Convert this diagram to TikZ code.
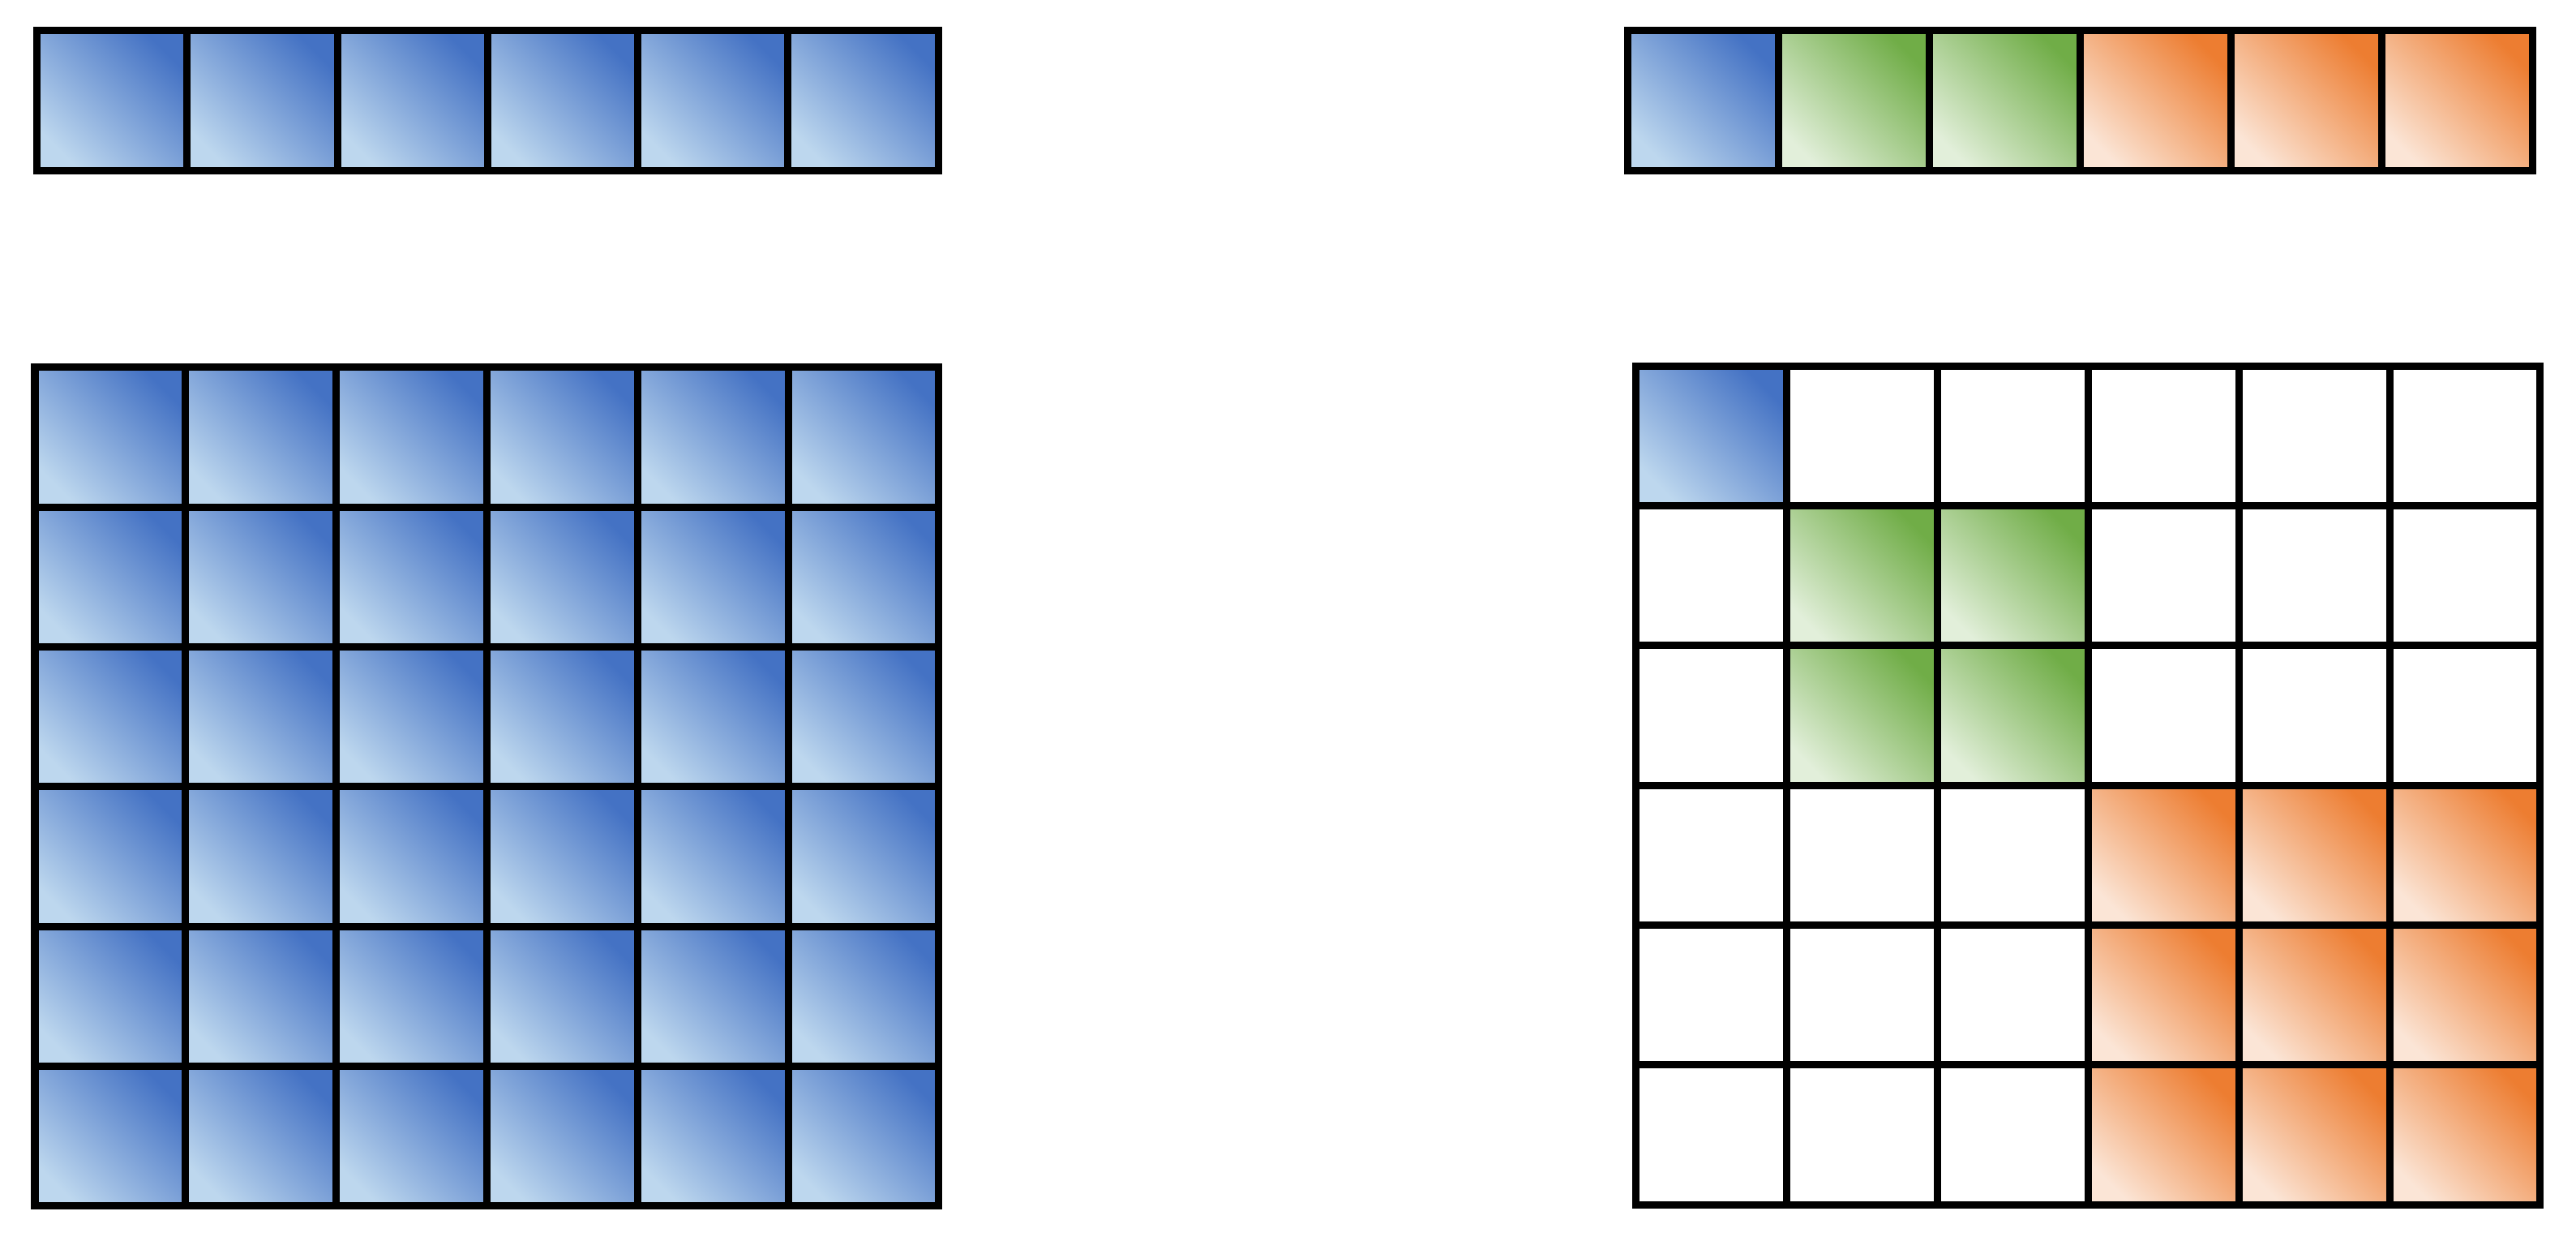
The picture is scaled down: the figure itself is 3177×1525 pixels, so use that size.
\documentclass[tikz,border=0pt]{standalone}
\definecolor{bdark}{HTML}{4472C4}
\definecolor{blight}{HTML}{BDD7EE}
\definecolor{gdark}{HTML}{70AD47}
\definecolor{glight}{HTML}{E2EFDA}
\definecolor{odark}{HTML}{ED7D31}
\definecolor{olight}{HTML}{FBE5D6}
\begin{document}
\begin{tikzpicture}[x=0.01cm,y=-0.01cm,
  cell/.style={draw=black, line width=0.09cm, line join=miter, inner sep=0pt, outer sep=0pt, anchor=north west, minimum width=1.858cm, minimum height=1.723cm},
  topcell/.style={cell, minimum height=1.73cm},
  bluecell/.style={top color=bdark, bottom color=blight, shading angle=-45},
  greencell/.style={top color=gdark, bottom color=glight, shading angle=-45},
  orangecell/.style={top color=odark, bottom color=olight, shading angle=-45},
  whitecell/.style={fill=white}]
\useasboundingbox (0,0) rectangle (3177,1525);
% left top row
\foreach \c in {0,...,5}{
  \node[topcell, bluecell, minimum width=1.8525cm] (LT-\c) at ({45.5+185.25*\c},37.5) {};
}
% right top row
\node[topcell, bluecell, minimum width=1.86cm] (RT-0) at (2007,37.5) {};
\foreach \c in {1,2}{
  \node[topcell, greencell, minimum width=1.86cm] (RT-\c) at ({2007+186*\c},37.5) {};
}
\foreach \c in {3,4,5}{
  \node[topcell, orangecell, minimum width=1.86cm] (RT-\c) at ({2007+186*\c},37.5) {};
}
% left grid
\foreach \r in {0,...,5}{
  \foreach \c in {0,...,5}{
    \node[cell, bluecell] (LG-\r-\c) at ({43+185.8*\c},{453+172.3*\r}) {};
  }
}
% right grid
\foreach \r in {0,...,5}{
  \foreach \c in {0,...,5}{
    \pgfmathsetmacro\kind{ (\r==0 && \c==0) ? 1 : ((\r>=1 && \r<=2 && \c>=1 && \c<=2) ? 2 : ((\r>=3 && \c>=3) ? 3 : 0)) }
    \ifdim\kind pt=1pt
      \node[cell, bluecell] (RG-\r-\c) at ({2017.5+185.9*\c},{451.5+172.25*\r}) {};
    \else\ifdim\kind pt=2pt
      \node[cell, greencell] (RG-\r-\c) at ({2017.5+185.9*\c},{451.5+172.25*\r}) {};
    \else\ifdim\kind pt=3pt
      \node[cell, orangecell] (RG-\r-\c) at ({2017.5+185.9*\c},{451.5+172.25*\r}) {};
    \else
      \node[cell, whitecell] (RG-\r-\c) at ({2017.5+185.9*\c},{451.5+172.25*\r}) {};
    \fi\fi\fi
  }
}
\end{tikzpicture}
\end{document}
